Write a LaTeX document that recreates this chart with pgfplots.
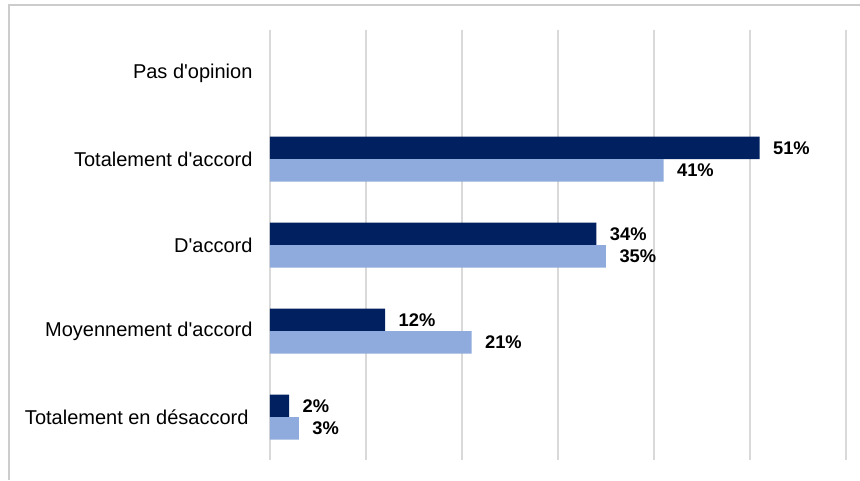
\documentclass[border=0pt]{standalone}
\usepackage{fontspec}
\setmainfont{Liberation Sans}
\usepackage{pgfplots}
\pgfplotsset{compat=1.18}
\definecolor{darkbar}{HTML}{002060}
\definecolor{lightbar}{HTML}{8FAADC}
\definecolor{gridgray}{HTML}{D9D9D9}
\definecolor{framegray}{HTML}{CCCCCC}
\newcommand{\q}{\textquotesingle}
\begin{document}
\begin{tikzpicture}[x=1pt,y=1pt]
\useasboundingbox (0,0) rectangle (860,480);
\draw[framegray, line width=2pt] (9,0) -- (9,474.5) -- (860,474.5);
\begin{axis}[
  at={(270pt,20pt)}, anchor=south west,
  width=576pt, height=430pt, scale only axis,
  xmin=0, xmax=60, ymin=-0.5, ymax=4.5,
  xbar, bar width=22.5pt,
  axis line style={draw=none},
  xtick={0,10,...,60}, xticklabels={},
  xmajorgrids, grid style={gridgray, line width=2pt},
  major tick length=0pt,
  ytick={0,1,2,3,4},
  yticklabels={Totalement en désaccord\kern4pt\null,Moyennement d\q accord,D\q accord,Totalement d\q accord,Pas d\q opinion},
  yticklabel style={font=\fontsize{20}{23}\selectfont, anchor=east, xshift=-14pt},
  /pgf/number format/assume math mode=true,
  nodes near coords={\pgfmathprintnumber{\pgfplotspointmeta}\%},
  nodes near coords style={font=\bfseries\fontsize{18.3}{20}\selectfont, anchor=west, xshift=10pt},
  point meta=x,
  clip=false,
]
\addplot[fill=darkbar, draw=none, bar shift=11.25pt] coordinates {(2,0) (12,1) (34,2) (51,3)};
\addplot[fill=lightbar, draw=none, bar shift=-11.25pt] coordinates {(3,0) (21,1) (35,2) (41,3)};
\end{axis}
\end{tikzpicture}
\end{document}
